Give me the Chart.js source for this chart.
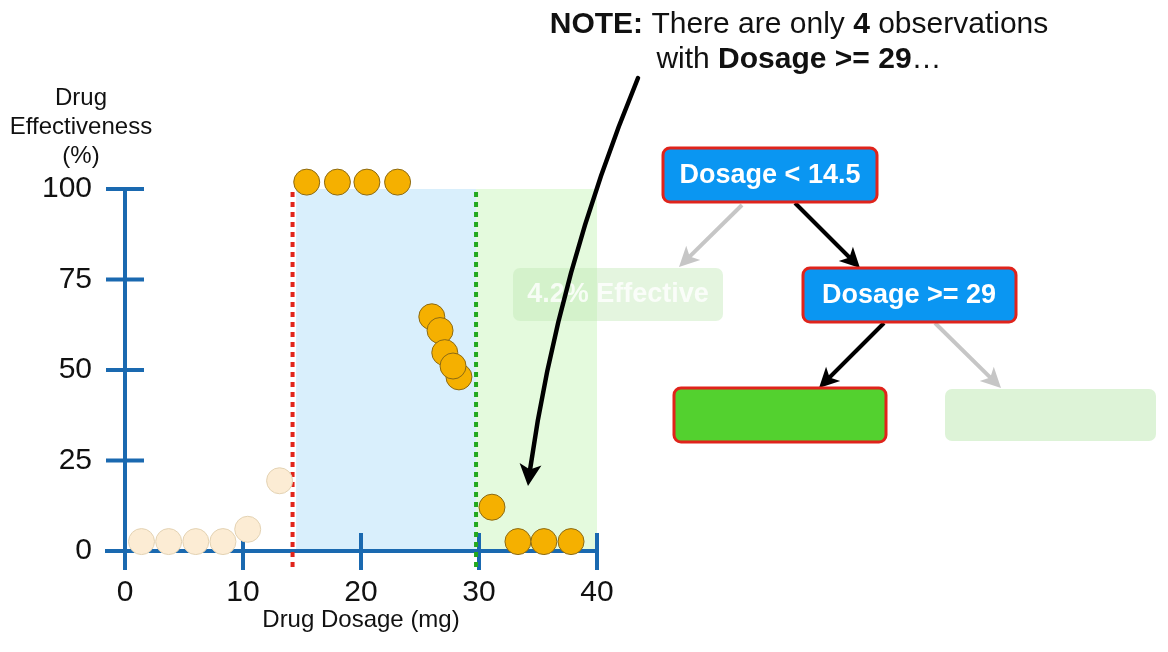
<!DOCTYPE html>
<html>
<head>
<meta charset="utf-8">
<script src="https://cdn.jsdelivr.net/npm/chart.js@4.4.0/dist/chart.umd.min.js"></script>
<style>
  html, body { margin: 0; padding: 0; background: #fff; }
  #wrap { width: 1168px; height: 652px; position: relative; }
</style>
</head>
<body>
<div id="wrap"><canvas id="chart"></canvas></div>
<script>
// values
const fadedDose = [1.4, 3.7, 6.0, 8.3, 10.4, 13.1];
const fadedEffect = [2.6, 2.6, 2.6, 2.6, 6.0, 19.4];
const dose = [15.4, 18.0, 20.5, 23.1, 26.0, 26.7, 27.1, 28.3, 27.8, 31.1, 33.3, 35.5, 37.8];
const effect = [101.9, 101.9, 101.9, 101.9, 64.7, 60.9, 54.8, 48.1, 51.1, 12.1, 2.6, 2.6, 2.6];

const xTicks = [0, 10, 20, 30, 40];
const yTicks = [0, 25, 50, 75, 100];

const redSplit = 14.2;      // dotted red line
const greenSplit = 29.75;   // dotted green line
const blueRegion = [14.5, 29.75];
const greenRegion = [29.75, 40];

const FONT = '"Helvetica Neue", Helvetica, Arial, "Liberation Sans", sans-serif';
const AXIS = "#1a69b0";

function toPoints(xs, ys) {
    return xs.map((x, i) => ({ x: x, y: ys[i] }));
}

function arrowHead(ctx, x0, y0, x1, y1, size, color) {
    const a = Math.atan2(y1 - y0, x1 - x0);
    ctx.save();
    ctx.translate(x1, y1);
    ctx.rotate(a);
    ctx.fillStyle = color;
    ctx.beginPath();
    ctx.moveTo(0, 0);
    ctx.lineTo(-size, -size * 0.5);
    ctx.lineTo(-size * 0.75, 0);
    ctx.lineTo(-size, size * 0.5);
    ctx.closePath();
    ctx.fill();
    ctx.restore();
}

function straightArrow(ctx, x0, y0, x1, y1, color) {
    const a = Math.atan2(y1 - y0, x1 - x0);
    ctx.save();
    ctx.strokeStyle = color;
    ctx.lineWidth = 4;
    ctx.beginPath();
    ctx.moveTo(x0, y0);
    ctx.lineTo(x1 - Math.cos(a) * 12, y1 - Math.sin(a) * 12);
    ctx.stroke();
    ctx.restore();
    arrowHead(ctx, x0, y0, x1, y1, 20, color);
}

function box(ctx, x, y, w, h, fill, stroke) {
    ctx.save();
    ctx.beginPath();
    ctx.roundRect(x, y, w, h, 7);
    ctx.fillStyle = fill;
    ctx.fill();
    if (stroke) {
        ctx.strokeStyle = stroke;
        ctx.lineWidth = 3;
        ctx.stroke();
    }
    ctx.restore();
}

function boxText(ctx, text, cx, cy, color) {
    ctx.save();
    ctx.font = "bold 27px " + FONT;
    ctx.fillStyle = color;
    ctx.textAlign = "center";
    ctx.textBaseline = "middle";
    ctx.fillText(text, cx, cy + 1);
    ctx.restore();
}

function richLine(ctx, runs, cx, baseline) {
    ctx.save();
    ctx.textBaseline = "alphabetic";
    ctx.fillStyle = "#111";
    let total = 0;
    runs.forEach((r) => {
        ctx.font = (r[1] ? "bold " : "") + "30px " + FONT;
        total += ctx.measureText(r[0]).width;
    });
    let x = cx - total / 2;
    runs.forEach((r) => {
        ctx.font = (r[1] ? "bold " : "") + "30px " + FONT;
        ctx.fillText(r[0], x, baseline);
        x += ctx.measureText(r[0]).width;
    });
    ctx.restore();
}

const backdrop = {
    id: "backdrop",
    beforeDatasetsDraw(chart) {
        const { ctx, scales: { x, y } } = chart;
        const top = y.getPixelForValue(100);
        const bottom = y.getPixelForValue(0);

        ctx.save();
        ctx.fillStyle = "#d9effc";
        ctx.fillRect(x.getPixelForValue(blueRegion[0]), top,
            x.getPixelForValue(blueRegion[1]) - x.getPixelForValue(blueRegion[0]), bottom - top);
        ctx.fillStyle = "#e4fadd";
        ctx.fillRect(x.getPixelForValue(greenRegion[0]), top,
            x.getPixelForValue(greenRegion[1]) - x.getPixelForValue(greenRegion[0]), bottom - top);

        // axes, with ticks crossing the line
        ctx.strokeStyle = AXIS;
        ctx.lineWidth = 4;
        const x0 = x.getPixelForValue(0);
        ctx.beginPath();
        ctx.moveTo(x0, top);
        ctx.lineTo(x0, bottom + 19);
        ctx.moveTo(x0 - 20, bottom);
        ctx.lineTo(x.getPixelForValue(40), bottom);
        yTicks.slice(1).forEach((v) => {
            const py = y.getPixelForValue(v);
            ctx.moveTo(x0 - 19, py);
            ctx.lineTo(x0 + 19, py);
        });
        xTicks.slice(1).forEach((v) => {
            const px = x.getPixelForValue(v);
            ctx.moveTo(px, bottom - 18);
            ctx.lineTo(px, bottom + 19);
        });
        ctx.stroke();

        // dotted split lines
        ctx.lineWidth = 4;
        ctx.setLineDash([5, 5]);
        ctx.strokeStyle = "#e0251c";
        ctx.beginPath();
        ctx.moveTo(x.getPixelForValue(redSplit), top + 3);
        ctx.lineTo(x.getPixelForValue(redSplit), bottom + 18);
        ctx.stroke();
        ctx.strokeStyle = "#23a81e";
        ctx.beginPath();
        ctx.moveTo(x.getPixelForValue(greenSplit), top + 3);
        ctx.lineTo(x.getPixelForValue(greenSplit), bottom + 18);
        ctx.stroke();
        ctx.restore();

        // y axis title
        ctx.save();
        ctx.font = "24px " + FONT;
        ctx.fillStyle = "#111";
        ctx.textAlign = "center";
        ctx.fillText("Drug", 81, 105);
        ctx.fillText("Effectiveness", 81, 134);
        ctx.fillText("(%)", 81, 163);
        ctx.restore();
    },
    afterDatasetsDraw(chart) {
        const { ctx } = chart;

        // faded leaf on the left
        box(ctx, 513, 268, 210, 53, "rgba(190, 230, 178, 0.42)", null);
        ctx.save();
        ctx.globalAlpha = 0.8;
        boxText(ctx, "4.2% Effective", 618, 294, "#ffffff");
        ctx.restore();

        // note text
        richLine(ctx, [["NOTE:", true], [" There are only ", false], ["4", true], [" observations", false]], 799, 33);
        richLine(ctx, [["with ", false], ["Dosage >= 29", true], ["\u2026", false]], 799, 68);

        // curved pointer
        ctx.save();
        ctx.strokeStyle = "#000";
        ctx.lineWidth = 4.5;
        ctx.lineCap = "round";
        ctx.beginPath();
        ctx.moveTo(638, 78);
        ctx.quadraticCurveTo(558, 272, 530, 470);
        ctx.stroke();
        ctx.restore();
        arrowHead(ctx, 531, 460, 528, 486, 22, "#000");

        // tree
        straightArrow(ctx, 742, 205, 679, 267, "#c6c6c6");
        straightArrow(ctx, 795, 203, 860, 268, "#000");
        straightArrow(ctx, 884, 323, 819, 388, "#000");
        straightArrow(ctx, 935, 323, 1001, 388, "#c6c6c6");

        box(ctx, 663, 148, 214, 54, "#0a96f2", "#e0231b");
        boxText(ctx, "Dosage < 14.5", 770, 175, "#fff");
        box(ctx, 803, 268, 213, 54, "#0a96f2", "#e0231b");
        boxText(ctx, "Dosage >= 29", 909, 295, "#fff");
        box(ctx, 674, 388, 212, 54, "#53d12f", "#e0231b");
        box(ctx, 945, 389, 211, 52, "#ddf3d7", null);
    },
};

new Chart(document.getElementById("chart"), {
    type: "scatter",
    data: {
        datasets: [
            {
                data: toPoints(fadedDose, fadedEffect),
                pointRadius: 13,
                pointBackgroundColor: "#fcecd4",
                pointBorderColor: "#e3d2b3",
                pointBorderWidth: 1,
                clip: false,
            },
            {
                data: toPoints(dose, effect),
                pointRadius: 13,
                pointBackgroundColor: "#f5b000",
                pointBorderColor: "#8c6a14",
                pointBorderWidth: 1,
                clip: false,
            },
        ],
    },
    options: {
        responsive: true,
        maintainAspectRatio: false,
        animation: false,
        layout: { padding: { top: 189, right: 571, left: 0, bottom: 0 }, autoPadding: false },
        plugins: { legend: { display: false }, tooltip: { enabled: false } },
        scales: {
            x: {
                type: "linear",
                min: 0,
                max: 40,
                grid: { display: false, drawTicks: false },
                border: { display: false },
                ticks: { stepSize: 10, padding: 24, color: "#111", font: { family: FONT, size: 30 } },
                title: {
                    display: true,
                    text: "Drug Dosage (mg)",
                    color: "#111",
                    font: { family: FONT, size: 24 },
                    padding: { top: 0, bottom: 17 },
                },
                afterFit(scale) { scale.height = 101; },
            },
            y: {
                min: 0,
                max: 100,
                grid: { display: false, drawTicks: false },
                border: { display: false },
                ticks: { stepSize: 25, padding: 33, color: "#111", font: { family: FONT, size: 30 } },
                afterFit(scale) { scale.width = 125; },
            },
        },
    },
    plugins: [backdrop],
});
</script>
</body>
</html>
